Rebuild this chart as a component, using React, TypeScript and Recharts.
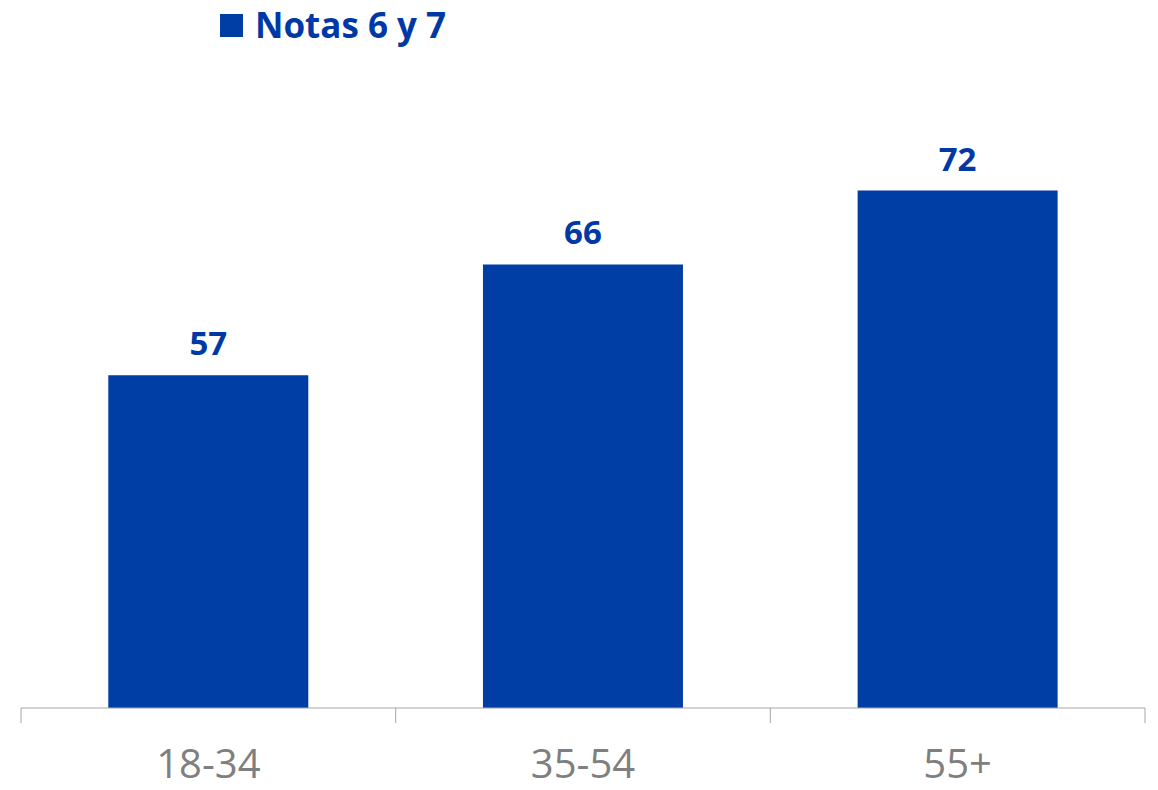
import React from 'react';
import { BarChart, Bar, XAxis, YAxis, LabelList, Legend } from 'recharts';

const categories = ['18-34', '35-54', '55+'];
const notas67 = [57, 66, 72];
const seriesName = 'Notas 6 y 7';

const data = categories.map((c, i) => ({ cat: c, v: notas67[i] }));

const BLUE = '#003DA5';
const LABEL_BLUE = '#0039A6';
const AXIS_GRAY = '#A6A6A6';
const FONT = '"Open Sans", "Noto Sans", sans-serif';

const CatTick = (props: any) => {
  const { x, y, payload, width, visibleTicksCount, index } = props;
  const half = width / visibleTicksCount / 2;
  const isLast = index === visibleTicksCount - 1;
  return (
    <g>
      <line x1={x - half} x2={x - half} y1={y} y2={y + 15} stroke={AXIS_GRAY} strokeWidth={1} />
      {isLast && <line x1={x + half} x2={x + half} y1={y} y2={y + 15} stroke={AXIS_GRAY} strokeWidth={1} />}
      <text x={x} y={y + 70} textAnchor="middle" fill="#7F7F7F" fontSize={40} fontFamily={FONT}>
        {payload.value}
      </text>
    </g>
  );
};

const LegendContent = () => (
  <div style={{ display: 'flex', alignItems: 'center', fontFamily: FONT }}>
    <div style={{ width: 23, height: 23, background: BLUE, marginRight: 12 }} />
    <span style={{ color: LABEL_BLUE, fontWeight: 700, fontSize: 35, lineHeight: '50px' }}>{seriesName}</span>
  </div>
);

export default function App() {
  return (
    <div style={{ position: 'absolute', left: 0, top: 0, width: 1158, height: 790, background: '#fff' }}>
      <BarChart
        width={1158}
        height={790}
        data={data}
        margin={{ top: 92, right: 13, left: 21, bottom: 0 }}
        barCategoryGap="23.3%"
      >
        <XAxis
          dataKey="cat"
          height={82}
          tickLine={false}
          tickSize={0}
          tickMargin={0}
          axisLine={{ stroke: AXIS_GRAY, strokeWidth: 1 }}
          tick={<CatTick />}
          interval={0}
        />
        <YAxis hide domain={[30, 80]} allowDataOverflow />
        <Legend
          layout="vertical"
          align="center"
          verticalAlign="middle"
          wrapperStyle={{ top: 0, left: 220, width: 300 }}
          content={<LegendContent />}
        />
        <Bar dataKey="v" name={seriesName} fill={BLUE} isAnimationActive={false}>
          <LabelList
            dataKey="v"
            position="top"
            offset={20}
            fill={LABEL_BLUE}
            fontSize={33}
            fontWeight={700}
            fontFamily={FONT}
          />
        </Bar>
      </BarChart>
    </div>
  );
}
